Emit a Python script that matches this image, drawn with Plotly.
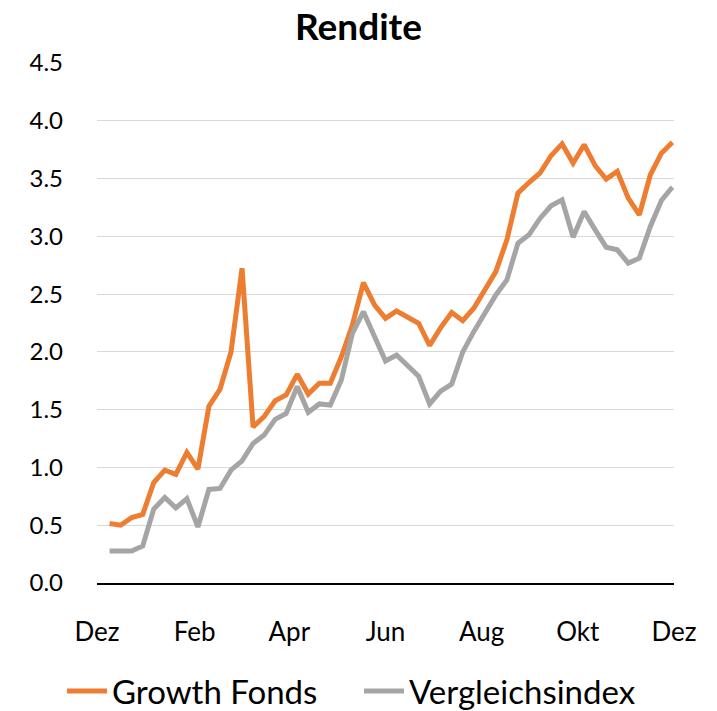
import plotly.graph_objects as go
import pandas as pd

# Weekly observation dates
dates = pd.date_range("2019-12-09", periods=52, freq="7D")

growth_fonds = [0.515, 0.50, 0.567, 0.593, 0.87, 0.977, 0.94, 1.13, 0.985, 1.53,
                1.676, 2.0, 2.724, 1.35, 1.44, 1.577, 1.627, 1.806, 1.635, 1.728,
                1.728, 1.958, 2.233, 2.60, 2.407, 2.29, 2.354, 2.305, 2.248, 2.055,
                2.21, 2.34, 2.27, 2.378, 2.536, 2.695, 2.97, 3.374, 3.466, 3.548,
                3.698, 3.80, 3.634, 3.793, 3.611, 3.496, 3.562, 3.331, 3.186, 3.533,
                3.72, 3.813]

vergleichsindex = [0.277, 0.277, 0.277, 0.32, 0.64, 0.74, 0.65, 0.73, 0.485, 0.81,
                   0.818, 0.977, 1.057, 1.208, 1.28, 1.416, 1.468, 1.70, 1.477, 1.55,
                   1.54, 1.757, 2.16, 2.348, 2.146, 1.921, 1.973, 1.886, 1.79, 1.55,
                   1.66, 1.722, 2.0, 2.175, 2.334, 2.493, 2.623, 2.94, 3.013, 3.155,
                   3.264, 3.316, 2.993, 3.215, 3.056, 2.906, 2.883, 2.768, 2.811, 3.085,
                   3.31, 3.426]

tick_dates = ["2019-12-01", "2020-02-01", "2020-04-01", "2020-06-01",
              "2020-08-01", "2020-10-01", "2020-12-01"]
tick_labels = ["Dez", "Feb", "Apr", "Jun", "Aug", "Okt", "Dez"]

y_ticks = [0, 0.5, 1, 1.5, 2, 2.5, 3, 3.5, 4, 4.5]
y_labels = ["0.0", "0.5", "1.0", "1.5", "2.0", "2.5", "3.0", "3.5", "4.0", "4.5"]

FONT = "Lato"

fig = go.Figure()
fig.add_trace(go.Scatter(x=dates, y=growth_fonds, mode="lines", name="Growth Fonds",
                         line=dict(color="#ED7D31", width=5), legend="legend"))
fig.add_trace(go.Scatter(x=dates, y=vergleichsindex, mode="lines", name="Vergleichsindex",
                         line=dict(color="#A5A5A5", width=5), legend="legend2"))

legend_style = dict(orientation="h", xanchor="left", xref="container",
                    y=20 / 711, yref="container", yanchor="middle",
                    font=dict(family=FONT, size=33, color="black"),
                    itemwidth=40, bgcolor="rgba(0,0,0,0)")

fig.update_layout(
    width=717, height=711,
    paper_bgcolor="white", plot_bgcolor="white",
    margin=dict(l=97, r=43, t=63, b=128),
    title=dict(text="<b>Rendite</b>", x=0.5, xref="container", xanchor="center",
               y=1 - 27 / 711, yref="container", yanchor="middle",
               font=dict(family=FONT, size=37, color="black")),
    font=dict(family=FONT, color="black"),
    legend=dict(x=62 / 717, **legend_style),
    legend2=dict(x=359 / 717, **legend_style),
    showlegend=True,
)

fig.update_xaxes(
    type="date", range=["2019-12-01", "2020-12-01"],
    tickvals=tick_dates, ticktext=tick_labels,
    showgrid=False, showline=True, linecolor="black", linewidth=2,
    ticks="", ticklabelstandoff=25,
    tickfont=dict(family=FONT, size=26, color="black"),
    zeroline=False,
)
fig.update_yaxes(
    range=[0, 4.5], tickvals=y_ticks, ticktext=y_labels,
    showgrid=True, gridcolor="#D9D9D9", gridwidth=1.3,
    showline=False, zeroline=False, ticks="", ticklabelstandoff=33,
    tickfont=dict(family=FONT, size=24, color="black"),
)

fig.write_html("out.html", config={"displayModeBar": False},
               post_script="document.body.style.margin='0';")
